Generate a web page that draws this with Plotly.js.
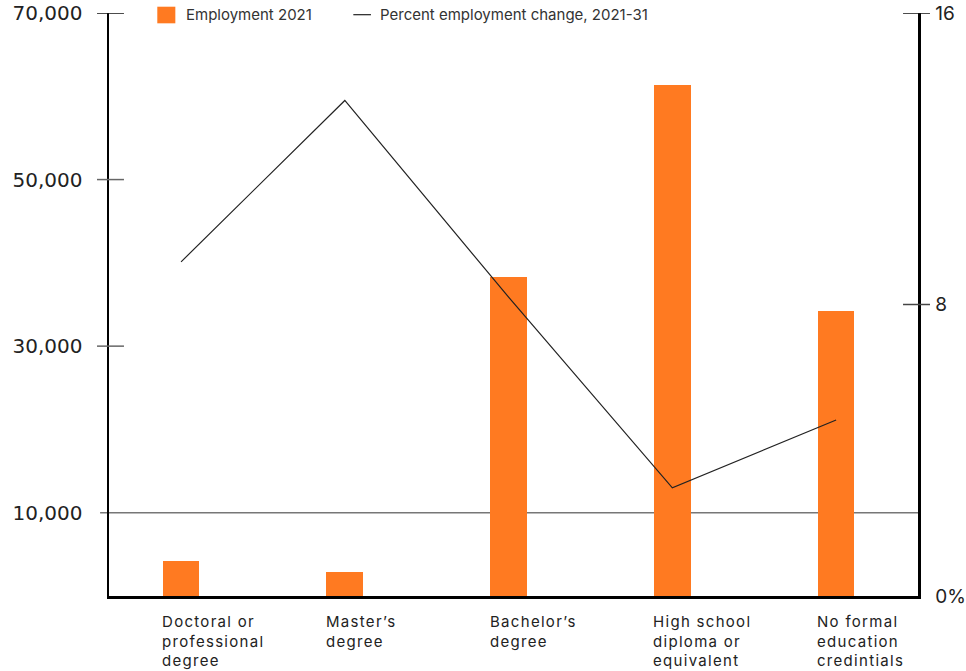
<!DOCTYPE html>
<html>
<head>
<meta charset="utf-8">
<script src="https://cdn.plot.ly/plotly-3.0.1.min.js"></script>
<style>
html,body{margin:0;padding:0;background:#fff;}
#chart{width:966px;height:671px;}
.cat-label .annotation-text{letter-spacing:1.3px;}
</style>
</head>
<body>
<div id="chart"></div>
<script>
// ---- data ----
const categories = ["Doctoral or professional degree", "Master’s degree", "Bachelor’s degree", "High school diploma or equivalent", "No formal education credintials"];
const categoryLabels = ["Doctoral or<br>professional<br>degree", "Master’s<br>degree", "Bachelor’s<br>degree", "High school<br>diploma or<br>equivalent", "No formal<br>education<br>credintials"];
const employment2021 = [4200, 2900, 38300, 61300, 34200];
const percentChange = [9.17, 13.6, 8.2, 2.97, 4.83];
const seriesNames = ["Employment 2021", "Percent employment change, 2021-31"];
const leftTickVals = [10000, 30000, 50000, 70000];
const leftTickText = ["10,000", "30,000", "50,000", "70,000"];
const rightTickVals = [0, 8, 16];
const rightTickText = ["0%", "8", "16"];

const orange = "#ff7a21";
const lineColor = "#222";

const traces = [
  {
    type: "bar",
    name: seriesNames[0],
    x: categories,
    y: employment2021,
    width: 0.224,
    marker: {color: orange},
    showlegend: false
  },
  {
    type: "scatter",
    mode: "lines",
    name: seriesNames[1],
    x: categories,
    y: percentChange,
    yaxis: "y2",
    line: {color: lineColor, width: 1.2},
    showlegend: false
  }
];

const shapes = [];
// full-width reference line for the lowest left tick
shapes.push({type: "line", xref: "paper", yref: "y", x0: -0.011, x1: 1, y0: leftTickVals[0], y1: leftTickVals[0], line: {color: "#777", width: 1.5}, layer: "below"});
// crossing ticks on the left axis
leftTickVals.slice(1).forEach((v, i) => {
  shapes.push({type: "line", xref: "paper", yref: "y", x0: -0.0148, x1: 0.0185, y0: v, y1: v, line: {color: i === 2 ? "#111" : "#666", width: 1.5}});
});
// crossing ticks on the right axis
rightTickVals.slice(1).forEach((v, i) => {
  shapes.push({type: "line", xref: "paper", yref: "y2", x0: 0.9815, x1: 1.0148, y0: v, y1: v, line: {color: i === 1 ? "#111" : "#444", width: 1.5}});
});
// legend swatches (drawn in paper space above the plot)
shapes.push({type: "rect", xref: "paper", yref: "paper", x0: 0.0597, x1: 0.082, y0: 0.9823, y1: 1.0108, fillcolor: orange, line: {width: 0}});
shapes.push({type: "line", xref: "paper", yref: "paper", x0: 0.302, x1: 0.3238, y0: 0.9971, y1: 0.9971, line: {color: lineColor, width: 1.2}});

const annotations = categories.map((c, i) => ({
  x: c, xref: "x", y: 0, yref: "paper",
  xanchor: "left", yanchor: "top", align: "left",
  xshift: -21, yshift: -14,
  text: categoryLabels[i], showarrow: false,
  font: {family: "Inter, sans-serif", size: 15, color: "#222"},
  name: "cat"
}));
// legend texts
annotations.push({x: 0.0925, y: 0.9966, xref: "paper", yref: "paper", xanchor: "left", yanchor: "middle", showarrow: false,
  text: seriesNames[0], font: {family: "Inter, sans-serif", size: 15, color: "#333"}});
annotations.push({x: 0.333, y: 0.9966, xref: "paper", yref: "paper", xanchor: "left", yanchor: "middle", showarrow: false,
  text: seriesNames[1], font: {family: "Inter, sans-serif", size: 15, color: "#333"}});

const layout = {
  width: 966, height: 671,
  margin: {l: 109, r: 48, t: 13, b: 75, pad: 0},
  paper_bgcolor: "#fff", plot_bgcolor: "#fff",
  showlegend: false,
  xaxis: {
    type: "category", range: [-0.44, 4.5],
    showline: true, linecolor: "#000", linewidth: 2.5,
    showgrid: false, zeroline: false, ticks: "", showticklabels: false, fixedrange: true
  },
  yaxis: {
    range: [0, 70000], tickvals: leftTickVals, ticktext: leftTickText,
    showline: true, linecolor: "#000", linewidth: 2.5, automargin: false,
    showgrid: false, zeroline: false, ticks: "", ticklabelstandoff: 20,
    tickfont: {family: "DejaVu Sans, sans-serif", size: 20, color: "#222"}
  },
  yaxis2: {
    range: [0, 16], overlaying: "y", side: "right",
    tickvals: rightTickVals, ticktext: rightTickText, automargin: false,
    showline: true, linecolor: "#000", linewidth: 2.5,
    showgrid: false, zeroline: false, ticks: "", ticklabelstandoff: 11,
    tickfont: {family: "Inter, sans-serif", size: 19, color: "#222"}
  },
  bargap: 0,
  shapes: shapes,
  annotations: annotations
};

Plotly.newPlot("chart", traces, layout, {displayModeBar: false, staticPlot: true}).then(() => {
  // widen tracking of the category labels like the reference
  document.querySelectorAll(".annotation").forEach((g, i) => {
    if (i < categories.length) g.classList.add("cat-label");
  });
});
</script>
</body>
</html>
